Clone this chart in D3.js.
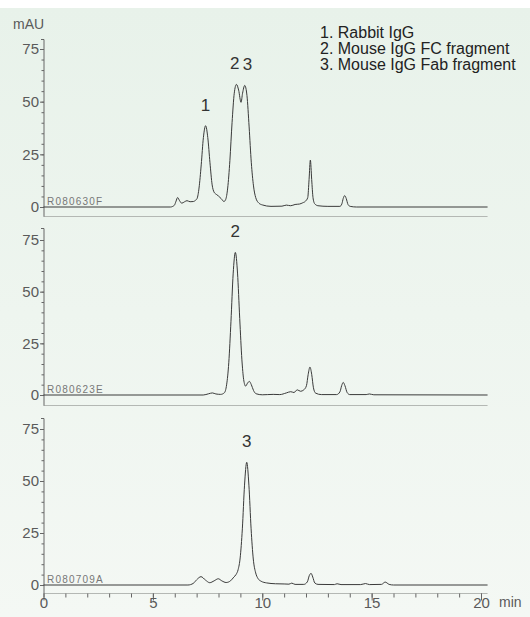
<!DOCTYPE html>
<html>
<head>
<meta charset="utf-8">
<script src="https://cdn.jsdelivr.net/npm/d3@7/dist/d3.min.js"></script>
<style>
  html, body { margin: 0; padding: 0; background: #fff; }
  svg { display: block; font-family: "Liberation Sans", Arial, Helvetica, sans-serif; }
</style>
</head>
<body>
<svg id="chart" width="530" height="617"></svg>
<script>
// Retention time axis (min) and absorbance ticks (mAU)
const xTicks = [0, 5, 10, 15, 20];
const xTickLabels = ["0", "5", "10", "15", "20"];
const yTicks = [0, 25, 50, 75];
const yTickLabels = ["0", "25", "50", "75"];

// Sample names for each run
const sampleNames = ["R080630F", "R080623E", "R080709A"];

// Legend entries
const legendItems = ["1. Rabbit IgG", "2. Mouse IgG FC fragment", "3. Mouse IgG Fab fragment"];

// Run R080630F: mixture of rabbit IgG, mouse IgG Fc and Fab  [time (min), mAU]
const traceMix = [
  [0, 0], [5.8, 0], [5.98, 0.8], [6.06, 2.8], [6.13, 4.5], [6.22, 3.0], [6.32, 1.8], [6.45, 2.5],
  [6.56, 3.0], [6.7, 2.5], [6.85, 2.6], [6.95, 3.2], [7.02, 4.0], [7.11, 9], [7.21, 20], [7.31, 33],
  [7.41, 38.6], [7.51, 33], [7.61, 21], [7.71, 10.5], [7.8, 7], [7.9, 6], [8.0, 5.2], [8.12, 4],
  [8.25, 2.6], [8.33, 3.6], [8.42, 9], [8.52, 22], [8.62, 40], [8.72, 54], [8.82, 58.2], [8.92, 55.5],
  [9.03, 49.7], [9.1, 54], [9.2, 57.7], [9.3, 53], [9.4, 38], [9.5, 21], [9.6, 10], [9.7, 4.5],
  [9.85, 1.8], [10.0, 1.0], [10.4, 0.3], [10.9, 0.4], [11.1, 0.9], [11.3, 0.6], [11.5, 1.2],
  [11.7, 1.4], [11.85, 2.0], [11.98, 2.8], [12.08, 4.5], [12.14, 13], [12.2, 22.3], [12.26, 13],
  [12.32, 4.5], [12.4, 1.5], [12.55, 0.6], [13.0, 0.3], [13.55, 0.3], [13.64, 1.5], [13.7, 4],
  [13.77, 5.4], [13.84, 4], [13.92, 1.2], [14.02, 0.3], [14.3, 0], [20.3, 0]
];

// Run R080623E: mouse IgG Fc fragment
const traceFc = [
  [0, 0], [7.3, 0], [7.55, 0.6], [7.72, 1.0], [7.88, 0.5], [8.1, 0.3], [8.27, 1.1], [8.37, 4.9],
  [8.47, 15.6], [8.57, 35.7], [8.67, 58.6], [8.77, 69], [8.87, 59], [8.97, 37], [9.07, 17],
  [9.15, 7.5], [9.24, 4.3], [9.33, 5.8], [9.41, 6.6], [9.5, 5], [9.6, 2.2], [9.72, 0.6], [10.0, 0.1],
  [10.5, 0.3], [10.8, 0.2], [11.1, 1.0], [11.3, 1.6], [11.45, 1.2], [11.6, 2.5], [11.75, 1.8],
  [11.9, 2.5], [12.02, 4.5], [12.1, 10], [12.18, 13.5], [12.26, 10], [12.34, 3.5], [12.44, 0.9],
  [12.7, 0.2], [13.4, 0.2], [13.55, 1.5], [13.63, 4.5], [13.7, 6.1], [13.78, 4.5], [13.88, 1.2],
  [14.0, 0.2], [14.75, 0.2], [14.9, 0.5], [15.1, 0.1], [20.3, 0]
];

// Run R080709A: mouse IgG Fab fragment
const traceFab = [
  [0, 0], [6.6, 0], [6.85, 0.8], [7.0, 2.5], [7.2, 4.0], [7.4, 2.4], [7.6, 1.1], [7.8, 2.0],
  [7.99, 3.0], [8.15, 2.0], [8.35, 1.2], [8.55, 2.0], [8.7, 3.8], [8.8, 5], [8.9, 7.5], [8.99, 13],
  [9.09, 27], [9.19, 48], [9.29, 59], [9.39, 48], [9.49, 27], [9.59, 12.5], [9.7, 5.8], [9.8, 3.2],
  [9.95, 1.8], [10.2, 1.0], [10.6, 0.6], [11.0, 0.5], [11.22, 0.4], [11.35, 0.9], [11.5, 0.3],
  [11.9, 0.3], [12.06, 1.5], [12.15, 4.5], [12.23, 5.6], [12.31, 3.8], [12.4, 1.0], [12.55, 0.3],
  [13.3, 0.2], [13.42, 0.6], [13.6, 0.2], [14.5, 0.2], [14.72, 0.7], [14.9, 0.2], [15.45, 0.3],
  [15.62, 1.4], [15.8, 0.3], [16.0, 0], [20.3, 0]
];

// Peak annotations: [time, mAU, label] for each run
const peaksMix = [[7.41, 38.6, "1"], [8.74, 58.2, "2"], [9.33, 57.7, "3"]];
const peaksFc = [[8.77, 69, "2"]];
const peaksFab = [[9.29, 59, "3"]];

const traces = [traceMix, traceFc, traceFab];
const peakSets = [peaksMix, peaksFc, peaksFab];

const svg = d3.select("#chart");
const W = 530, H = 617;

// Soft green backdrop
const defs = svg.append("defs");
const grad = defs.append("linearGradient").attr("id", "bg").attr("x1", 0).attr("y1", 0).attr("x2", 0).attr("y2", 1);
grad.append("stop").attr("offset", "0%").attr("stop-color", "#e8f2ea");
grad.append("stop").attr("offset", "100%").attr("stop-color", "#f4f8f4");
svg.append("rect").attr("x", 0).attr("y", 0).attr("width", W).attr("height", H).attr("fill", "#ffffff");
svg.append("rect").attr("x", 0).attr("y", 8).attr("width", W).attr("height", H - 8).attr("fill", "url(#bg)");

const x = d3.scaleLinear().domain([0, 20]).range([43.5, 481]);
const xEnd = x(20.3);

// Vertical geometry of the three stacked panels
const panels = [
  { top: 39, zero: 207, v75: 49, bottom: 216 },
  { top: 228, zero: 395, v75: 240, bottom: 405 },
  { top: 418, zero: 585, v75: 429, bottom: 593 }
];

const axisColor = "#666";
const labelColor = "#5a5a5a";
const tickFont = "15px";

panels.forEach((p, i) => {
  const y = d3.scaleLinear().domain([0, 75]).range([p.zero, p.v75]);
  const g = svg.append("g");

  // panel floor line
  g.append("line")
    .attr("x1", x(0)).attr("x2", xEnd)
    .attr("y1", p.bottom + 0.5).attr("y2", p.bottom + 0.5)
    .attr("stroke", "#b4b8b4").attr("stroke-width", 1);

  // y axis spine with top cap
  g.append("path")
    .attr("d", `M${x(0) - 2.5},${p.top + 0.5}H${x(0) + 0.5}V${p.bottom + 0.5}`)
    .attr("fill", "none").attr("stroke", axisColor).attr("stroke-width", 1);

  // minor ticks every 5 mAU
  const minor = d3.range(0, 80, 5).filter(v => y(v) >= p.top);
  g.append("g")
    .attr("transform", `translate(${x(0) + 0.5},0)`)
    .call(d3.axisLeft(y).tickValues(minor).tickSize(2.5).tickSizeOuter(0).tickFormat(""))
    .call(a => a.select(".domain").remove())
    .call(a => a.selectAll("line").attr("stroke", axisColor));

  // major ticks and labels
  g.append("g")
    .attr("transform", `translate(${x(0) + 0.5},0)`)
    .call(d3.axisLeft(y).tickValues(yTicks).tickSize(4).tickSizeOuter(0).tickPadding(1)
      .tickFormat((d, k) => yTickLabels[k]))
    .call(a => a.select(".domain").remove())
    .call(a => a.selectAll("line").attr("stroke", axisColor))
    .call(a => a.selectAll("text")
      .attr("fill", labelColor)
      .style("font-size", tickFont)
      .style("font-family", "'Liberation Sans', Arial, sans-serif"));

  // chromatogram trace
  const line = d3.line()
    .x(d => x(d[0]))
    .y(d => y(d[1]))
    .curve(d3.curveMonotoneX);
  g.append("path")
    .datum(traces[i])
    .attr("d", line)
    .attr("fill", "none")
    .attr("stroke", "#3a3a3a")
    .attr("stroke-width", 1)
    .attr("stroke-linejoin", "round");

  // sample name
  g.append("text")
    .attr("x", x(0) + 3.5)
    .attr("y", p.zero - 2)
    .attr("fill", "#777")
    .style("font-size", "10px")
    .style("letter-spacing", "1.2px")
    .text(sampleNames[i]);

  // peak numbers
  g.selectAll("text.peak")
    .data(peakSets[i])
    .join("text")
    .attr("class", "peak")
    .attr("x", d => x(d[0]))
    .attr("y", d => y(d[1]) - 15)
    .attr("text-anchor", "middle")
    .attr("fill", "#333")
    .style("font-size", "17px")
    .text(d => d[2]);

  // time axis under the last panel
  if (i === panels.length - 1) {
    const minorX = d3.range(0, 21, 1);
    svg.append("g")
      .attr("transform", `translate(0,${p.bottom + 0.5})`)
      .call(d3.axisBottom(x).tickValues(minorX).tickSize(4).tickSizeOuter(0).tickFormat(""))
      .call(a => a.select(".domain").remove())
      .call(a => a.selectAll("line").attr("stroke", axisColor));
    svg.append("g")
      .attr("transform", `translate(0,${p.bottom + 0.5})`)
      .call(d3.axisBottom(x).tickValues(xTicks).tickSize(7).tickSizeOuter(0)
        .tickFormat((d, k) => xTickLabels[k]))
      .call(a => a.select(".domain").remove())
      .call(a => a.selectAll("line").attr("stroke", axisColor))
      .call(a => a.selectAll("text")
        .attr("y", 4)
        .attr("fill", labelColor)
        .style("font-size", tickFont)
        .style("font-family", "'Liberation Sans', Arial, sans-serif"));
    svg.append("text")
      .attr("x", 499)
      .attr("y", 607)
      .attr("fill", labelColor)
      .style("font-size", "14px")
      .text("min");
  }
});

// unit label
svg.append("text")
  .attr("x", 13)
  .attr("y", 29)
  .attr("fill", labelColor)
  .style("font-size", "14px")
  .text("mAU");

// legend
svg.append("g")
  .selectAll("text")
  .data(legendItems)
  .join("text")
  .attr("x", 320)
  .attr("y", (d, k) => 38 + k * 15.8)
  .attr("fill", "#222")
  .style("font-size", "16px")
  .text(d => d);
</script>
</body>
</html>
